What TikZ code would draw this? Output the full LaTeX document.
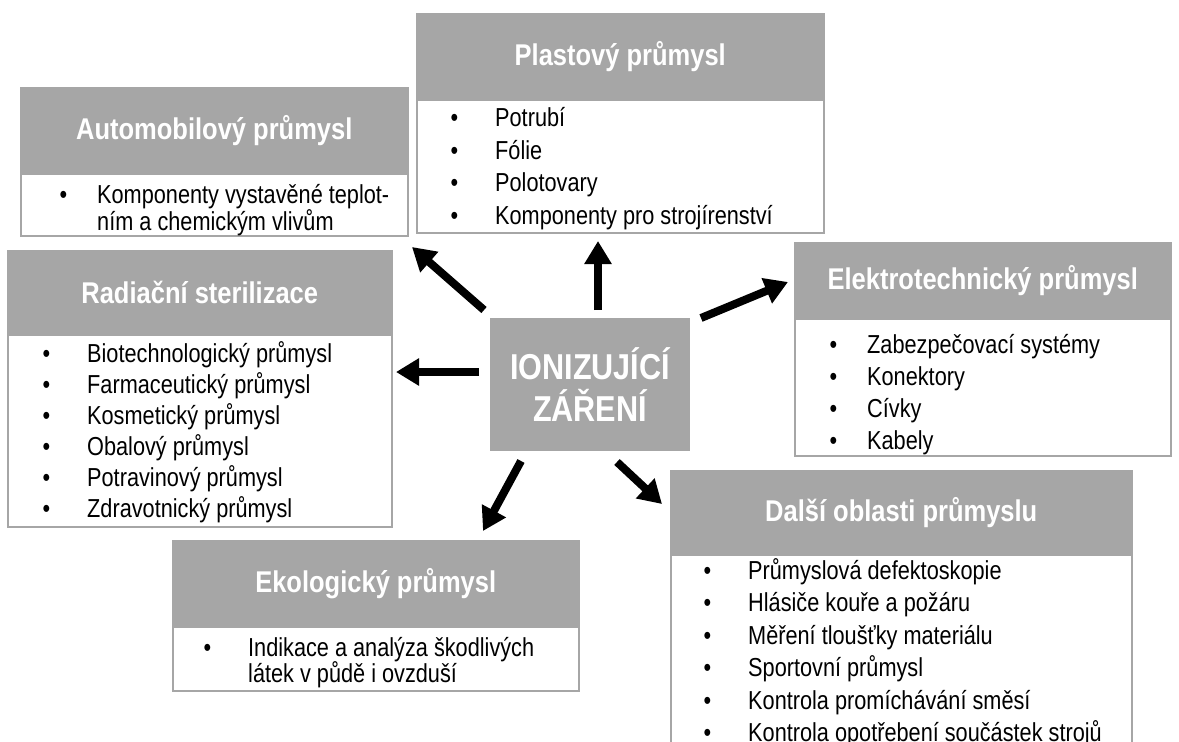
\documentclass[tikz,border=0pt]{standalone}
\usepackage{fontspec}
\setmainfont{Liberation Sans}
\newfontfamily\bodyfont[FakeStretch=0.835]{Liberation Sans}
\newfontfamily\headfont[FakeStretch=0.85]{Liberation Sans}
\usetikzlibrary{arrows.meta}
\definecolor{hdr}{HTML}{A6A6A6}
% bullet hanging to the left of an item, gap before the text
\newcommand\bul[1][37]{\makebox[0pt][r]{\textbullet\hspace{#1pt}}}
% category panel: name, left, top, width, header height, body height, title
\newcommand\catpanel[7]{%
  \node[panel, minimum width=#4pt, minimum height=#6pt] (#1-body) at (#2,#3+#5) {};
  \node[head, minimum width=#4pt, minimum height=#5pt] (#1-head) at (#2,#3) {#7};
}
\begin{document}
\begin{tikzpicture}[x=1pt,y=-1pt,
  head/.style={fill=hdr, draw=hdr, line width=1.5pt, text=white,
    font=\headfont\bfseries\fontsize{30}{34}\selectfont, anchor=north west, inner sep=0pt},
  panel/.style={draw=hdr, line width=1.5pt, fill=white, anchor=north west, inner sep=0pt},
  item/.style={anchor=base west, inner sep=0pt, font=\bodyfont\fontsize{26}{30}\selectfont},
  hub/.style={fill=hdr, text=white, font=\headfont\bfseries\fontsize{36}{42}\selectfont,
    align=center, inner sep=0pt},
  ray/.style={line width=8pt, -{Triangle[length=23pt,width=26pt]}}
]
\useasboundingbox[fill=white] (0,0) rectangle (1179,742);

% panels
\catpanel{auto}{20}{87}{387}{86}{62}{Automobilový průmysl}
\catpanel{plast}{416}{13}{407}{86}{133}{Plastový průmysl}
\catpanel{rad}{7}{250}{384}{84}{192}{Radiační sterilizace}
\catpanel{elek}{794}{242}{376}{76}{137}{Elektrotechnický průmysl}
\catpanel{eko}{172}{540}{406}{86}{64}{Ekologický průmysl}
\catpanel{dalsi}{670}{470}{461}{84}{300}{Další oblasti průmyslu}

% central hub
\node[hub, minimum width=200pt, minimum height=133pt] (ion) at (590,384.5) {IONIZUJÍCÍ\\ZÁŘENÍ};

% items
\node[item] (auto-1) at (97,203) {\bul[30]Komponenty vystavěné teplot-};
\node[item] (auto-2) at (97,230) {ním a chemickým vlivům};

\foreach \t [count=\i] in {Potrubí, Fólie, Polotovary, Komponenty pro strojírenství}
  \node[item] (plast-\i) at (495, 94+32.5*\i) {\bul\t};

\foreach \t [count=\i] in {Biotechnologický průmysl, Farmaceutický průmysl,
    Kosmetický průmysl, Obalový průmysl, Potravinový průmysl, Zdravotnický průmysl}
  \node[item] (rad-\i) at (87, 331+31*\i) {\bul\t};

\foreach \t [count=\i] in {Zabezpečovací systémy, Konektory, Cívky, Kabely}
  \node[item] (elek-\i) at (867, 321+32*\i) {\bul[30]\t};

\node[item] (eko-1) at (248,656) {\bul Indikace a analýza škodlivých};
\node[item] (eko-2) at (248,682) {látek v půdě i ovzduší};

\foreach \t [count=\i] in {Průmyslová defektoskopie, Hlásiče kouře a požáru,
    Měření tloušťky materiálu, Sportovní průmysl, Kontrola promíchávání směsí,
    Kontrola opotřebení součástek strojů}
  \node[item] (dalsi-\i) at (748, 547+32.4*\i) {\bul\t};

% arrows from the hub
\coordinate (r1s) at (484,310); \coordinate (r1e) at (412,247);
\coordinate (r2s) at (598,310); \coordinate (r2e) at (598,241);
\coordinate (r3s) at (701,318); \coordinate (r3e) at (788,282);
\coordinate (r4s) at (479,372); \coordinate (r4e) at (396,372);
\coordinate (r5s) at (521,461); \coordinate (r5e) at (483,531);
\coordinate (r6s) at (617,462); \coordinate (r6e) at (662,504);
\foreach \k in {1,...,6}
  \draw[ray] (r\k s) -- (r\k e);
\end{tikzpicture}
\end{document}
